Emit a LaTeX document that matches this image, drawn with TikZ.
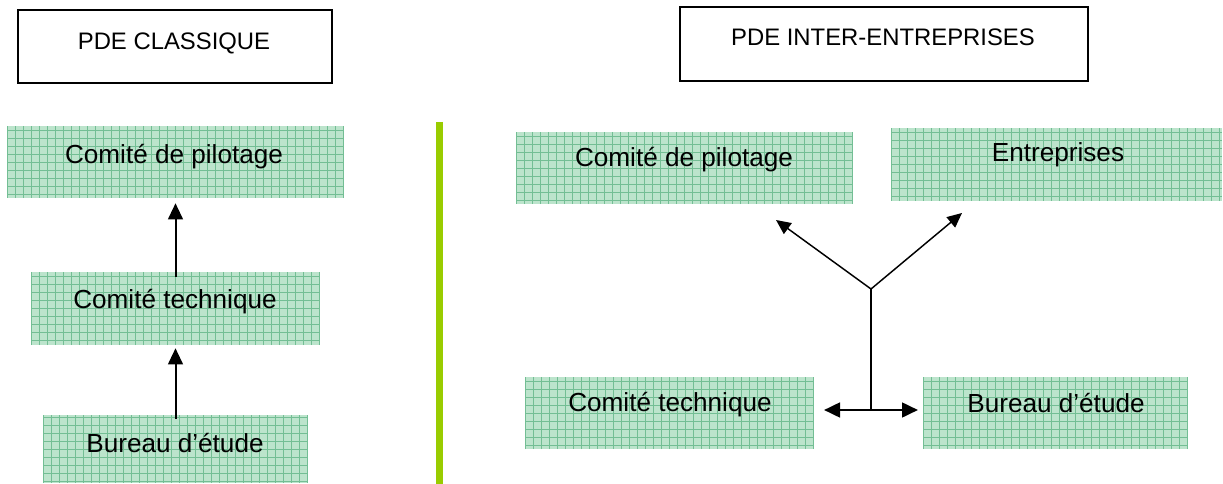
\documentclass[tikz,border=0pt]{standalone}
\usepackage{fontspec}
\setmainfont{Liberation Sans}
\usetikzlibrary{arrows.meta,fit}
\definecolor{gfill}{RGB}{188,228,204}
\definecolor{gline}{RGB}{115,190,148}
\definecolor{sepgreen}{RGB}{153,204,0}
\tikzset{
  gbox/.style={rectangle, inner sep=0pt, draw=none, fill=gfill,
    path picture={\draw[gline, line width=0.7pt]
      (path picture bounding box.south west) grid[step=6pt]
      (path picture bounding box.north east);}},
  titlebox/.style={rectangle, inner sep=0pt, draw=black, line width=1.1pt},
  lbl/.style={font=\fontsize{19.6}{23}\selectfont, inner sep=0pt, text=black},
  tlbl/.style={font=\fontsize{17.9}{21}\selectfont, inner sep=0pt, text=black},
  arr/.style={-{Triangle[length=12pt,width=11pt]}, line width=1.5pt},
  darr/.style={{Triangle[length=12pt,width=11pt]}-{Triangle[length=12pt,width=11pt]}, line width=2pt},
  yline/.style={line width=1.1pt},
  yarr/.style={-{Triangle[length=11pt,width=10pt]}, line width=1.1pt}
}
\begin{document}
\begin{tikzpicture}[x=0.75pt,y=-0.75pt]
\useasboundingbox (0,0) rectangle (1223,484);
% title boxes
\node[titlebox, fit={(18,10) (332,83)}] (tl) {};
\node[tlbl] (tlt) at (174,43) {PDE CLASSIQUE};
\node[titlebox, fit={(680,7) (1088,81)}] (tr) {};
\node[tlbl] (trt) at (883,37) {PDE INTER-ENTREPRISES};
% separator
\draw[sepgreen, line width=4.6pt] (439.5,122) coordinate (s1) -- (439.5,484) coordinate (s2);
% left column
\node[gbox, fit={(7,126) (344,198)}] (lpil) {};
\node[lbl] (lpilt) at (174,157) {Comité de pilotage};
\node[gbox, fit={(31,272) (320,345)}] (ltech) {};
\node[lbl] (ltecht) at (175,302) {Comité technique};
\node[gbox, fit={(43,415) (308,483)}] (lbur) {};
\node[lbl] (lburt) at (175,443) {Bureau d'étude};
\draw[arr, shorten <=-3.75pt, shorten >=3.75pt] (ltech.north) -- (lpil.south);
\draw[arr, shorten <=-3pt, shorten >=2.25pt] (lbur.north) -- (ltech.south);
% right column
\node[gbox, fit={(516,132) (853,204)}] (rpil) {};
\node[lbl] (rpilt) at (684,160) {Comité de pilotage};
\node[gbox, fit={(891,128) (1222,201)}] (rent) {};
\node[lbl] (rentt) at (1058,155) {Entreprises};
\node[gbox, fit={(525,377) (814,449)}] (rtech) {};
\node[lbl] (rtecht) at (670,405) {Comité technique};
\node[gbox, fit={(923,377) (1188,449)}] (rbur) {};
\node[lbl] (rburt) at (1056,403) {Bureau d'étude};
\coordinate (j) at (871,289);
\coordinate (jb) at (871,410);
\coordinate (tp) at (776,220);
\coordinate (te) at (962,213);
\coordinate (tt) at (824,410);
\coordinate (tb) at (918,410);
\draw[yline] (jb) -- (j);
\draw[yarr] (j) -- (tp);
\draw[yarr] (j) -- (te);
\draw[darr] (tt) -- (tb);
\end{tikzpicture}
\end{document}
